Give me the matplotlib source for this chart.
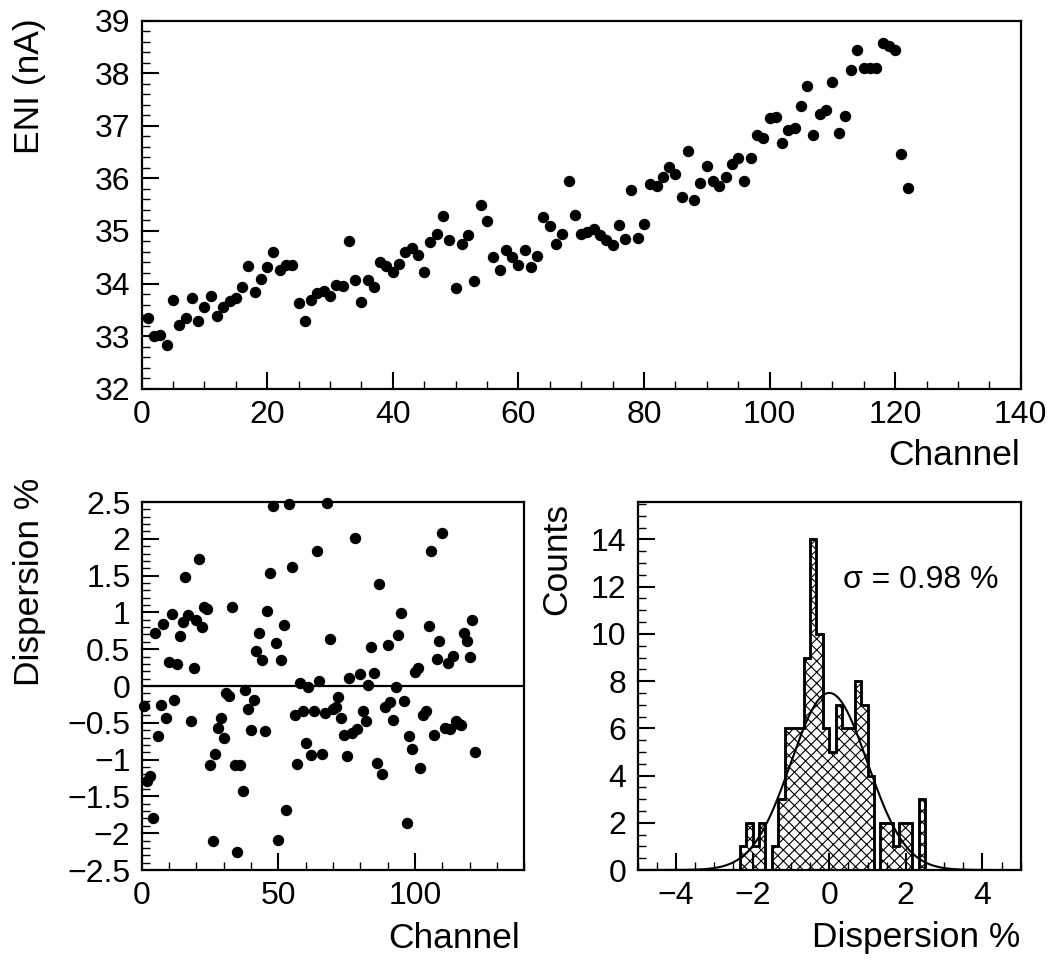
import numpy as np
import matplotlib
matplotlib.use("Agg")
import matplotlib.pyplot as plt
from matplotlib.ticker import MultipleLocator, FuncFormatter

plt.rcParams['font.family'] = ['Liberation Sans', 'DejaVu Sans']
plt.rcParams['hatch.linewidth'] = 0.8

# ---------------- data ----------------
channels = list(range(1, 123))

eni_nA = [
    33.35, 33.01, 33.03, 32.84, 33.68, 33.22, 33.35, 33.72, 33.29, 33.55,
    33.76, 33.38, 33.55, 33.67, 33.73, 33.94, 34.33, 33.84, 34.09, 34.31,
    34.60, 34.26, 34.36, 34.35, 33.63, 33.29, 33.68, 33.81, 33.85, 33.76,
    33.98, 33.95, 34.81, 34.07, 33.65, 34.07, 33.94, 34.41, 34.33, 34.22,
    34.37, 34.59, 34.68, 34.55, 34.22, 34.78, 34.95, 35.28, 34.83, 33.91,
    34.75, 34.92, 34.05, 35.49, 35.19, 34.50, 34.26, 34.64, 34.51, 34.36,
    34.63, 34.31, 34.52, 35.27, 35.09, 34.75, 34.94, 35.94, 35.30, 34.95,
    34.97, 35.03, 34.92, 34.83, 34.73, 35.12, 34.84, 35.78, 34.86, 35.14,
    35.90, 35.85, 36.03, 36.22, 36.08, 35.65, 36.52, 35.59, 35.92, 36.23,
    35.95, 35.85, 36.02, 36.28, 36.38, 35.95, 36.39, 36.82, 36.77, 37.15,
    37.17, 36.67, 36.92, 36.95, 37.37, 37.76, 36.82, 37.22, 37.30, 37.84,
    36.87, 37.19, 38.06, 38.44, 38.10, 38.09, 38.09, 38.57, 38.52, 38.44,
    36.46, 35.82,
]

dispersion_pct = [
    -0.27, -1.29, -1.22, -1.79, 0.72, -0.68, -0.26, 0.84, -0.43, 0.33,
    0.98, -0.19, 0.30, 0.68, 0.87, 1.48, 0.96, -0.48, 0.25, 0.90,
    1.73, 0.80, 1.08, 1.04, -1.07, -2.11, -0.93, -0.57, -0.44, -0.70,
    -0.09, -0.14, 1.08, -1.07, -2.26, -1.07, -1.43, -0.06, -0.31, -0.60,
    -0.19, 0.47, 0.72, 0.36, -0.61, 1.02, 1.53, 2.45, 0.58, -2.09,
    0.36, 0.83, -1.68, 2.47, 1.62, -0.39, -1.06, 0.04, -0.34, -0.78,
    -0.01, -0.94, -0.34, 1.84, 0.07, -0.92, -0.37, 2.48, 0.64, -0.31,
    -0.29, -0.15, -0.44, -0.67, -0.95, 0.11, -0.64, 2.01, -0.58, 0.16,
    -0.34, -0.47, 0.02, 0.53, 0.17, -1.04, 1.39, -1.20, -0.28, 0.56,
    -0.22, -0.46, -0.02, 0.69, 0.99, -0.21, -1.86, -0.68, -0.85, 0.19,
    0.25, -1.11, -0.39, -0.34, 0.82, 1.84, -0.67, 0.37, 0.61, 2.08,
    -0.57, 0.31, -0.58, 0.41, -0.47, -0.51, -0.53, 0.72, 0.61, 0.40,
    0.89, -0.89,
]

# histogram of dispersion: 60 bins from -5 to 5
hist_range = (-5.0, 5.0)
hist_counts = [
    0, 0, 0, 0, 0, 0, 0, 0, 0, 0,
    0, 0, 0, 0, 0, 0, 1, 2, 1, 2,
    0, 1, 3, 6, 6, 6, 9, 14, 10, 6,
    5, 7, 6, 6, 8, 7, 4, 0, 2, 2,
    1, 2, 2, 0, 3, 0, 0, 0, 0, 0,
    0, 0, 0, 0, 0, 0, 0, 0, 0, 0,
]

gauss_amp = 7.5
gauss_mean = 0.0
gauss_sigma = 1.0
sigma_label = "\u03c3 = 0.98 %"

# ---------------- figure ----------------
W, H = 1055, 961
fig = plt.figure(figsize=(W / 100, H / 100), dpi=100)

def px_axes(l, t, r, b):
    return fig.add_axes([l / W, 1 - b / H, (r - l) / W, (b - t) / H])

ax1 = px_axes(141.6, 20.5, 1020.7, 388.7)
ax2 = px_axes(141.6, 502.0, 524.2, 870.0)
ax3 = px_axes(637.7, 501.7, 1020.7, 870.0)

TICK_FS = 23
TITLE_FS = 25.5

def style(ax):
    for s in ax.spines.values():
        s.set_linewidth(1.6)
    ax.tick_params(which='both', direction='in', top=False, right=False,
                   labelsize=TICK_FS, pad=8)
    ax.tick_params(which='major', length=12, width=1.5)
    ax.tick_params(which='minor', length=6, width=1.0)

def fmt_num(v, pos):
    s = ("%g" % v)
    return s.replace('-', '\u2212')

# top: ENI vs channel
ax1.plot(channels, eni_nA, 'o', color='black', ms=7.2, clip_on=False)
ax1.set_xlim(0, 140)
ax1.set_ylim(32, 39)
ax1.xaxis.set_major_locator(MultipleLocator(20))
ax1.xaxis.set_minor_locator(MultipleLocator(5))
ax1.yaxis.set_major_locator(MultipleLocator(1))
ax1.yaxis.set_minor_locator(MultipleLocator(0.2))
style(ax1)

# bottom-left: dispersion vs channel
ax2.plot(channels, dispersion_pct, 'o', color='black', ms=7.2, clip_on=False)
ax2.axhline(0, color='black', lw=1.6)
ax2.set_xlim(0, 140)
ax2.set_ylim(-2.5, 2.5)
ax2.xaxis.set_major_locator(MultipleLocator(50))
ax2.xaxis.set_minor_locator(MultipleLocator(10))
ax2.yaxis.set_major_locator(MultipleLocator(0.5))
ax2.yaxis.set_minor_locator(MultipleLocator(0.1))
ax2.yaxis.set_major_formatter(FuncFormatter(fmt_num))
style(ax2)

# bottom-right: histogram
edges = np.linspace(hist_range[0], hist_range[1], len(hist_counts) + 1)
ax3.stairs(hist_counts, edges, fill=True, facecolor='white', edgecolor='black',
           hatch='xxx', linewidth=1.8)
ax3.stairs(hist_counts, edges, fill=False, edgecolor='black', linewidth=1.8)
gx = np.linspace(hist_range[0], hist_range[1], 500)
gy = gauss_amp * np.exp(-0.5 * ((gx - gauss_mean) / gauss_sigma) ** 2)
ax3.plot(gx, gy, color='black', lw=1.5)
ax3.set_xlim(-5, 5)
ax3.set_ylim(0, 15.6)
ax3.xaxis.set_major_locator(MultipleLocator(2))
ax3.xaxis.set_minor_locator(MultipleLocator(0.5))
ax3.yaxis.set_major_locator(MultipleLocator(2))
ax3.yaxis.set_minor_locator(MultipleLocator(0.5))
ax3.xaxis.set_major_formatter(FuncFormatter(fmt_num))
style(ax3)

# titles (ROOT style: right/top aligned)
fig.text(30 / W, 1 - 18 / H, "ENI (nA)", rotation=90, ha='center', va='top',
         fontsize=TITLE_FS)
fig.text(1020 / W, 1 - 456 / H, "Channel", ha='right', va='center',
         fontsize=TITLE_FS)
fig.text(30 / W, 1 - 478 / H, "Dispersion %", rotation=90, ha='center',
         va='top', fontsize=TITLE_FS)
fig.text(520 / W, 1 - 938 / H, "Channel", ha='right', va='center',
         fontsize=TITLE_FS)
fig.text(557 / W, 1 - 503 / H, "Counts", rotation=90, ha='center', va='top',
         fontsize=TITLE_FS)
fig.text(1020 / W, 1 - 938 / H, "Dispersion %", ha='right', va='center',
         fontsize=TITLE_FS)
fig.text(843 / W, 1 - 580 / H, sigma_label, ha='left', va='center',
         fontsize=TICK_FS)

fig.savefig("out.png", dpi=100)
